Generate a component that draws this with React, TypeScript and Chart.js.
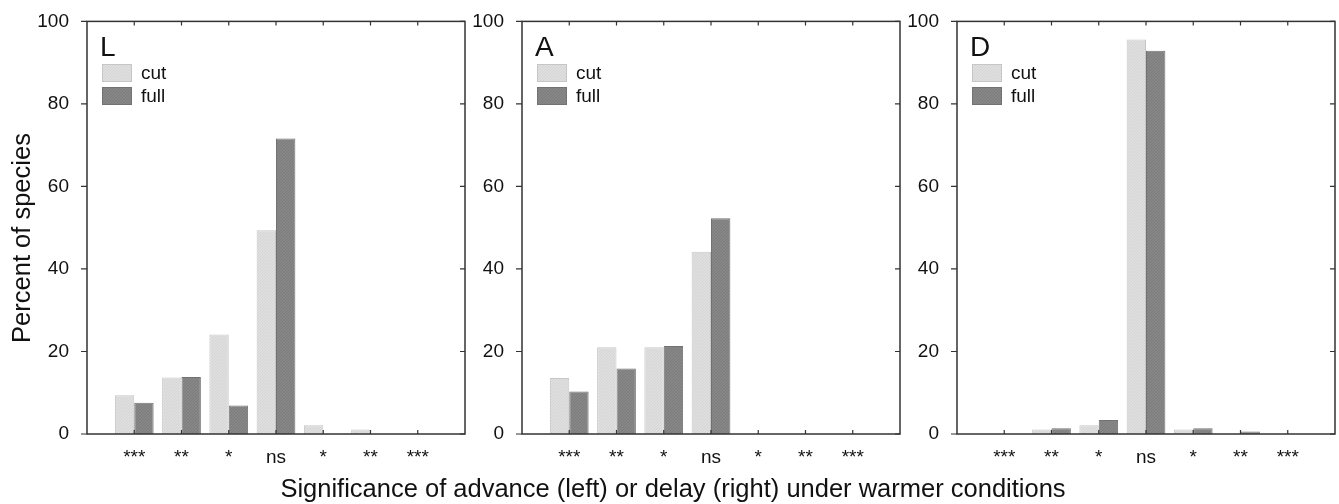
import React, { useEffect, useRef } from "react";
import { Chart, registerables } from "chart.js";

Chart.register(...registerables);

const categories = ["***", "**", "*", "ns", "*", "**", "***"];
const seriesNames = ["cut", "full"];
const yTicks = [0, 20, 40, 60, 80, 100];

const panelLetters = ["L", "A", "D"];
const cutL = [9.4, 13.7, 24.1, 49.4, 2.1, 1.1, 0];
const fullL = [7.6, 13.8, 6.9, 71.6, 0, 0, 0];
const cutA = [13.6, 21.0, 21.0, 44.2, 0, 0, 0];
const fullA = [10.3, 15.9, 21.3, 52.3, 0, 0, 0];
const cutD = [0, 1.1, 2.1, 95.6, 1.1, 0, 0];
const fullD = [0, 1.4, 3.4, 92.9, 1.4, 0.6, 0];

const yTitle = "Percent of species";
const xTitle = "Significance of advance (left) or delay (right) under warmer conditions";

const FONT = "'Liberation Sans', Arial, sans-serif";
const TEXT = "#111111";
const FRAME = "#333333";
const CUT_FILL = "#dfdfdf";
const CUT_BORDER = "#c6c6c6";
const FULL_FILL = "#878787";
const FULL_BORDER = "#727272";

function makePattern(base: string, dot: string): CanvasPattern | string {
  const c = document.createElement("canvas");
  c.width = 3;
  c.height = 3;
  const ctx = c.getContext("2d");
  if (!ctx) return base;
  ctx.fillStyle = base;
  ctx.fillRect(0, 0, 3, 3);
  ctx.fillStyle = dot;
  ctx.fillRect(0, 0, 1, 1);
  ctx.fillRect(2, 1, 1, 1);
  ctx.fillRect(1, 2, 1, 1);
  const p = ctx.createPattern(c, "repeat");
  return p || base;
}

const PLOT_W = 380;
const TOP = 21;
const BOTTOM = 434;
const H = 504;

type PanelProps = {
  left: number;
  axisW: number;
  letter: string;
  cut: number[];
  full: number[];
  showYTitle: boolean;
};

function Panel({ left, axisW, letter, cut, full, showYTitle }: PanelProps) {
  const ref = useRef<HTMLCanvasElement | null>(null);
  const width = axisW + PLOT_W + 2;

  useEffect(() => {
    if (!ref.current) return;
    const cutPat = makePattern(CUT_FILL, "#d4d4d4");
    const fullPat = makePattern(FULL_FILL, "#7b7b7b");

    const framePlugin = {
      id: "frameAndLegend",
      afterDraw(chart: any) {
        const { ctx, chartArea } = chart;
        const { left: l, right: r, top: t, bottom: b } = chartArea;
        const xs = chart.scales.x;
        const ys = chart.scales.y;
        ctx.save();
        ctx.strokeStyle = FRAME;
        ctx.lineWidth = 1.5;
        ctx.strokeRect(l, t, r - l, b - t);
        ctx.lineWidth = 1.2;
        ctx.beginPath();
        yTicks.forEach((v) => {
          const y = ys.getPixelForValue(v);
          ctx.moveTo(l - 6, y);
          ctx.lineTo(l, y);
          ctx.moveTo(r, y);
          ctx.lineTo(r - 5, y);
        });
        categories.forEach((_, i) => {
          const x = xs.getPixelForValue(i + 1);
          ctx.moveTo(x, t);
          ctx.lineTo(x, t + 4);
          ctx.moveTo(x, b);
          ctx.lineTo(x, b - 4);
        });
        ctx.stroke();

        ctx.fillStyle = TEXT;
        ctx.font = `28px ${FONT}`;
        ctx.textAlign = "left";
        ctx.textBaseline = "alphabetic";
        ctx.fillText(letter, l + 13, 56);

        const boxes = [
          { name: seriesNames[0], fill: cutPat, border: CUT_BORDER, y: 64 },
          { name: seriesNames[1], fill: fullPat, border: FULL_BORDER, y: 87 },
        ];
        boxes.forEach((bx) => {
          ctx.fillStyle = bx.fill as any;
          ctx.fillRect(l + 15, bx.y, 30, 18);
          ctx.strokeStyle = bx.border;
          ctx.lineWidth = 1;
          ctx.strokeRect(l + 15.5, bx.y + 0.5, 29, 17);
          ctx.fillStyle = TEXT;
          ctx.font = `19px ${FONT}`;
          ctx.textBaseline = "middle";
          ctx.fillText(bx.name, l + 54, bx.y + 9.5);
        });

        if (showYTitle) {
          ctx.save();
          ctx.translate(30, 238);
          ctx.rotate(-Math.PI / 2);
          ctx.font = `25.5px ${FONT}`;
          ctx.textAlign = "center";
          ctx.textBaseline = "alphabetic";
          ctx.fillStyle = TEXT;
          ctx.fillText(yTitle, 0, 0);
          ctx.restore();
        }
        ctx.restore();
      },
    };

    const chart = new Chart(ref.current, {
      type: "bar",
      data: {
        datasets: [
          {
            label: seriesNames[0],
            data: cut.map((v, i) => ({ x: i + 1, y: v })),
            backgroundColor: cutPat as any,
            borderColor: CUT_BORDER,
            borderWidth: 1,
            borderSkipped: "bottom",
            categoryPercentage: 0.82,
            barPercentage: 1,
          },
          {
            label: seriesNames[1],
            data: full.map((v, i) => ({ x: i + 1, y: v })),
            backgroundColor: fullPat as any,
            borderColor: FULL_BORDER,
            borderWidth: 1,
            borderSkipped: "bottom",
            categoryPercentage: 0.82,
            barPercentage: 1,
          },
        ],
      },
      options: {
        responsive: false,
        animation: false,
        devicePixelRatio: 1,
        layout: { padding: { top: TOP, right: 2, bottom: 0, left: 0 } },
        plugins: {
          legend: { display: false },
          tooltip: { enabled: false },
          title: { display: false },
        },
        scales: {
          x: {
            type: "linear",
            min: 0,
            max: 8,
            offset: false,
            grid: { display: false, offset: false },
            border: { display: false },
            ticks: {
              stepSize: 1,
              autoSkip: false,
              maxRotation: 0,
              padding: 4,
              color: TEXT,
              font: { family: FONT, size: 19 },
              callback: (v: any) => {
                const n = Number(v);
                return n >= 1 && n <= categories.length ? categories[n - 1] : "";
              },
            },
            afterFit: (s: any) => {
              s.height = H - BOTTOM;
            },
          },
          y: {
            min: 0,
            max: 100,
            grid: { display: false },
            border: { display: false },
            ticks: {
              stepSize: 20,
              padding: 10,
              color: TEXT,
              font: { family: FONT, size: 19 },
            },
            afterFit: (s: any) => {
              s.width = axisW;
            },
          },
        },
      },
      plugins: [framePlugin],
    });
    return () => chart.destroy();
  }, [axisW, letter, cut, full, showYTitle]);

  return (
    <canvas
      ref={ref}
      width={width}
      height={H}
      style={{ position: "absolute", left: left - axisW, top: 0, width, height: H }}
    />
  );
}

export default function App() {
  return (
    <div
      style={{
        position: "fixed",
        left: 0,
        top: 0,
        width: 1339,
        height: 504,
        background: "#ffffff",
        overflow: "hidden",
      }}
    >
      <Panel left={87} axisW={87} letter={panelLetters[0]} cut={cutL} full={fullL} showYTitle={true} />
      <Panel left={522} axisW={55} letter={panelLetters[1]} cut={cutA} full={fullA} showYTitle={false} />
      <Panel left={957} axisW={55} letter={panelLetters[2]} cut={cutD} full={fullD} showYTitle={false} />
      <div
        style={{
          position: "absolute",
          left: 0,
          width: 1346,
          top: 476,
          textAlign: "center",
          fontFamily: FONT,
          fontSize: "25.5px",
          lineHeight: 1,
          color: TEXT,
          whiteSpace: "nowrap",
        }}
      >
        {xTitle}
      </div>
    </div>
  );
}
